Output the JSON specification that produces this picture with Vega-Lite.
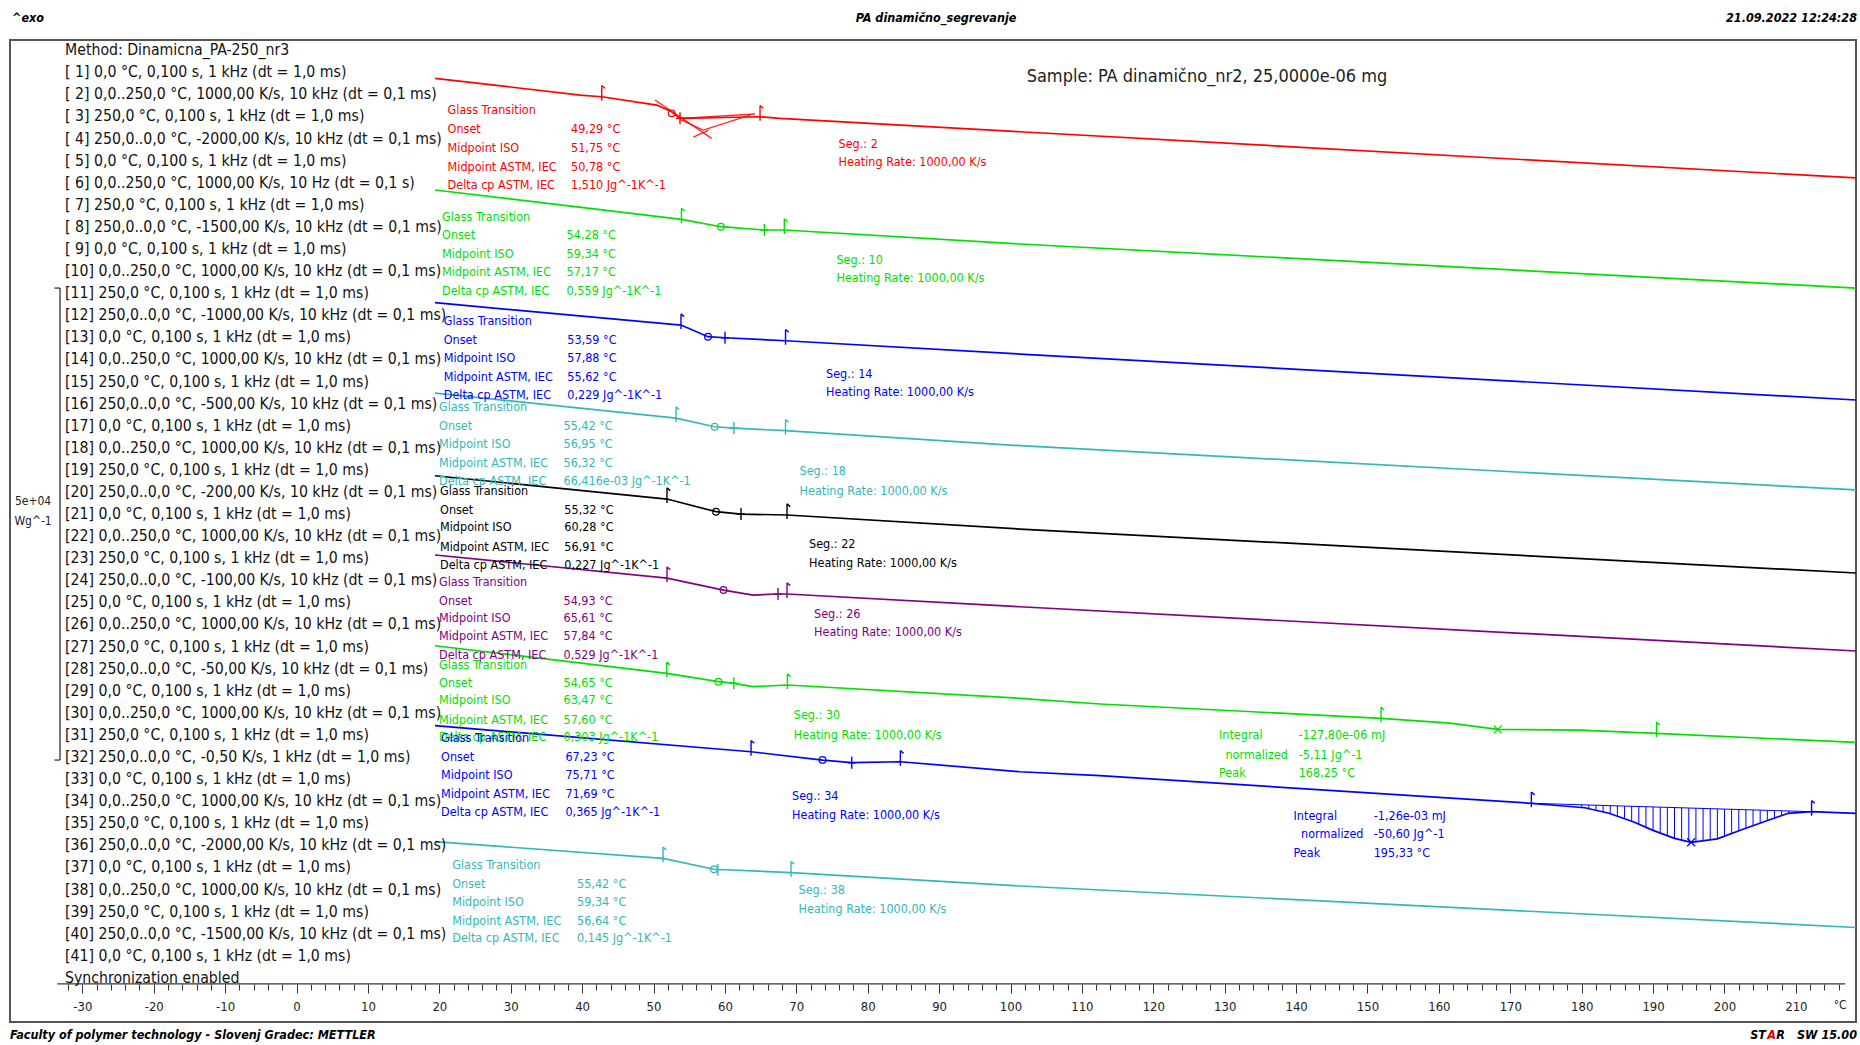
{
  "$schema": "https://vega.github.io/schema/vega-lite/v6.json",
  "width": 1846,
  "height": 982,
  "autosize": {"type": "none"},
  "padding": {"left": 10, "top": 40, "right": 4, "bottom": 23},
  "background": "white",
  "config": {
    "view": {"stroke": "#555555", "strokeWidth": 2},
    "font": "DejaVu Sans Condensed, Liberation Sans, sans-serif"
  },
  "datasets": {
    "curves": [
      {"s": "s2", "T": 19.4, "hf": 99.97}, {"s": "s2", "T": 39.71, "hf": 98.2}, {"s": "s2", "T": 42.75, "hf": 98.02}, {"s": "s2", "T": 50.45, "hf": 97.14}, {"s": "s2", "T": 52.55, "hf": 96.43}, {"s": "s2", "T": 53.71, "hf": 95.73}, {"s": "s2", "T": 64.92, "hf": 95.9}, {"s": "s2", "T": 67.72, "hf": 95.73}, {"s": "s2", "T": 101.33, "hf": 94.31}, {"s": "s2", "T": 218.5, "hf": 89.41},
      {"s": "s10", "T": 19.4, "hf": 88.14}, {"s": "s10", "T": 53.91, "hf": 85.03}, {"s": "s10", "T": 59.45, "hf": 84.25}, {"s": "s10", "T": 65.53, "hf": 83.9}, {"s": "s10", "T": 68.32, "hf": 83.9}, {"s": "s10", "T": 101.33, "hf": 82.42}, {"s": "s10", "T": 218.5, "hf": 77.75},
      {"s": "s14", "T": 19.4, "hf": 76.2}, {"s": "s14", "T": 53.85, "hf": 73.83}, {"s": "s14", "T": 57.63, "hf": 72.6}, {"s": "s14", "T": 60.01, "hf": 72.49}, {"s": "s14", "T": 68.49, "hf": 72.17}, {"s": "s14", "T": 101.33, "hf": 70.76}, {"s": "s14", "T": 218.5, "hf": 65.89},
      {"s": "s18", "T": 19.4, "hf": 66.63}, {"s": "s18", "T": 53.15, "hf": 63.98}, {"s": "s18", "T": 58.57, "hf": 63.06}, {"s": "s18", "T": 61.27, "hf": 62.92}, {"s": "s18", "T": 68.49, "hf": 62.64}, {"s": "s18", "T": 101.33, "hf": 61.05}, {"s": "s18", "T": 218.5, "hf": 56.36},
      {"s": "s22", "T": 19.4, "hf": 57.87}, {"s": "s22", "T": 51.89, "hf": 55.4}, {"s": "s22", "T": 58.75, "hf": 54.06}, {"s": "s22", "T": 62.25, "hf": 53.81}, {"s": "s22", "T": 68.7, "hf": 53.71}, {"s": "s22", "T": 101.33, "hf": 52.22}, {"s": "s22", "T": 218.5, "hf": 47.56},
      {"s": "s26", "T": 19.4, "hf": 49.47}, {"s": "s26", "T": 51.89, "hf": 47.03}, {"s": "s26", "T": 59.8, "hf": 45.76}, {"s": "s26", "T": 63.94, "hf": 45.23}, {"s": "s26", "T": 67.44, "hf": 45.34}, {"s": "s26", "T": 68.7, "hf": 45.34}, {"s": "s26", "T": 101.33, "hf": 43.99}, {"s": "s26", "T": 218.5, "hf": 39.3},
      {"s": "s30", "T": 19.4, "hf": 39.86}, {"s": "s30", "T": 51.86, "hf": 36.94}, {"s": "s30", "T": 59.1, "hf": 36.05}, {"s": "s30", "T": 61.25, "hf": 35.88}, {"s": "s30", "T": 63.94, "hf": 35.52}, {"s": "s30", "T": 68.75, "hf": 35.7}, {"s": "s30", "T": 101.33, "hf": 34.29}, {"s": "s30", "T": 112.54, "hf": 33.69}, {"s": "s30", "T": 151.89, "hf": 32.17}, {"s": "s30", "T": 161.55, "hf": 31.67}, {"s": "s30", "T": 168.25, "hf": 31.0}, {"s": "s30", "T": 179.76, "hf": 30.93}, {"s": "s30", "T": 190.48, "hf": 30.58}, {"s": "s30", "T": 218.5, "hf": 29.61},
      {"s": "s34", "T": 19.4, "hf": 31.39}, {"s": "s34", "T": 63.66, "hf": 28.63}, {"s": "s34", "T": 73.68, "hf": 27.75}, {"s": "s34", "T": 77.76, "hf": 27.47}, {"s": "s34", "T": 84.57, "hf": 27.57}, {"s": "s34", "T": 101.33, "hf": 26.51}, {"s": "s34", "T": 112.54, "hf": 26.09}, {"s": "s34", "T": 172.95, "hf": 23.17}, {"s": "s34", "T": 177.03, "hf": 22.91}, {"s": "s34", "T": 180.42, "hf": 22.7}, {"s": "s34", "T": 183.82, "hf": 22.11}, {"s": "s34", "T": 187.21, "hf": 21.22}, {"s": "s34", "T": 190.0, "hf": 20.3}, {"s": "s34", "T": 193.0, "hf": 19.45}, {"s": "s34", "T": 195.33, "hf": 19.04}, {"s": "s34", "T": 199.0, "hf": 19.4}, {"s": "s34", "T": 202.5, "hf": 20.4}, {"s": "s34", "T": 206.22, "hf": 21.4}, {"s": "s34", "T": 208.94, "hf": 22.11}, {"s": "s34", "T": 212.2, "hf": 22.28}, {"s": "s34", "T": 218.5, "hf": 22.09},
      {"s": "s38", "T": 19.4, "hf": 19.1}, {"s": "s38", "T": 51.33, "hf": 17.34}, {"s": "s38", "T": 58.47, "hf": 16.18}, {"s": "s38", "T": 69.26, "hf": 15.82}, {"s": "s38", "T": 101.33, "hf": 14.41}, {"s": "s38", "T": 218.5, "hf": 10.01}
    ],
    "guides": [
      {"s": "s2", "p": "c1", "T": 50.21, "hf": 97.67}, {"s": "s2", "p": "c1", "T": 58.15, "hf": 93.61},
      {"s": "s2", "p": "c2", "T": 53.71, "hf": 95.63}, {"s": "s2", "p": "c2", "T": 56.97, "hf": 94.49}, {"s": "s2", "p": "c2", "T": 63.52, "hf": 96.08},
      {"s": "s2", "p": "c3", "T": 53.71, "hf": 95.73}, {"s": "s2", "p": "c3", "T": 64.22, "hf": 96.19},
      {"s": "s2", "p": "c4", "T": 55.57, "hf": 93.75}, {"s": "s2", "p": "c4", "T": 57.68, "hf": 94.46}
    ],
    "hatch": [
      {"T": 180, "hf": 22.73, "hf2": 23.01}, {"T": 181, "hf": 22.6, "hf2": 22.99}, {"T": 182, "hf": 22.43, "hf2": 22.97}, {"T": 183, "hf": 22.25, "hf2": 22.94},
      {"T": 184, "hf": 22.06, "hf2": 22.92}, {"T": 185, "hf": 21.8, "hf2": 22.9}, {"T": 186, "hf": 21.54, "hf2": 22.87}, {"T": 187, "hf": 21.28, "hf2": 22.85},
      {"T": 188, "hf": 20.96, "hf2": 22.83}, {"T": 189, "hf": 20.63, "hf2": 22.81}, {"T": 190, "hf": 20.3, "hf2": 22.78}, {"T": 191, "hf": 20.02, "hf2": 22.76},
      {"T": 192, "hf": 19.73, "hf2": 22.74}, {"T": 193, "hf": 19.45, "hf2": 22.72}, {"T": 194, "hf": 19.27, "hf2": 22.69}, {"T": 195, "hf": 19.1, "hf2": 22.67},
      {"T": 196, "hf": 19.11, "hf2": 22.65}, {"T": 197, "hf": 19.2, "hf2": 22.63}, {"T": 198, "hf": 19.3, "hf2": 22.6}, {"T": 199, "hf": 19.4, "hf2": 22.58},
      {"T": 200, "hf": 19.69, "hf2": 22.56}, {"T": 201, "hf": 19.97, "hf2": 22.54}, {"T": 202, "hf": 20.26, "hf2": 22.51}, {"T": 203, "hf": 20.53, "hf2": 22.49},
      {"T": 204, "hf": 20.8, "hf2": 22.47}, {"T": 205, "hf": 21.07, "hf2": 22.45}, {"T": 206, "hf": 21.34, "hf2": 22.42}, {"T": 207, "hf": 21.6, "hf2": 22.4},
      {"T": 208, "hf": 21.86, "hf2": 22.38}, {"T": 209, "hf": 22.11, "hf2": 22.35}, {"T": 210, "hf": 22.16, "hf2": 22.33}, {"T": 211, "hf": 22.22, "hf2": 22.31}
    ],
    "baseline": [
      {"T": 172.95, "hf": 23.17}, {"T": 212.2, "hf": 22.28}
    ],
    "flags": [
      {"s": "s2", "T": 42.75, "hf": 98.02}, {"s": "s2", "T": 64.92, "hf": 95.9},
      {"s": "s10", "T": 53.91, "hf": 85.03}, {"s": "s10", "T": 68.32, "hf": 83.9},
      {"s": "s14", "T": 53.85, "hf": 73.83}, {"s": "s14", "T": 68.49, "hf": 72.17},
      {"s": "s18", "T": 53.15, "hf": 63.98}, {"s": "s18", "T": 68.49, "hf": 62.64},
      {"s": "s22", "T": 51.89, "hf": 55.4}, {"s": "s22", "T": 68.7, "hf": 53.71},
      {"s": "s26", "T": 51.89, "hf": 47.03}, {"s": "s26", "T": 68.7, "hf": 45.34},
      {"s": "s30", "T": 51.86, "hf": 36.94}, {"s": "s30", "T": 68.75, "hf": 35.7}, {"s": "s30", "T": 151.89, "hf": 32.17}, {"s": "s30", "T": 190.48, "hf": 30.58},
      {"s": "s34", "T": 63.66, "hf": 28.63}, {"s": "s34", "T": 84.57, "hf": 27.57}, {"s": "s34", "T": 172.95, "hf": 23.17}, {"s": "s34", "T": 212.2, "hf": 22.28},
      {"s": "s38", "T": 51.33, "hf": 17.34}, {"s": "s38", "T": 69.26, "hf": 15.82}
    ],
    "midpoints": [
      {"s": "s2", "T": 52.55, "hf": 96.26}, {"s": "s10", "T": 59.45, "hf": 84.25}, {"s": "s14", "T": 57.63, "hf": 72.6},
      {"s": "s18", "T": 58.57, "hf": 63.06}, {"s": "s22", "T": 58.75, "hf": 54.06}, {"s": "s26", "T": 59.8, "hf": 45.76},
      {"s": "s30", "T": 59.1, "hf": 36.05}, {"s": "s34", "T": 73.68, "hf": 27.75}, {"s": "s38", "T": 58.47, "hf": 16.18}
    ],
    "crosses": [
      {"s": "s2", "T": 53.71, "hf": 95.73}, {"s": "s10", "T": 65.53, "hf": 83.9}, {"s": "s14", "T": 60.01, "hf": 72.49},
      {"s": "s18", "T": 61.27, "hf": 62.92}, {"s": "s22", "T": 62.25, "hf": 53.81}, {"s": "s26", "T": 67.44, "hf": 45.34},
      {"s": "s30", "T": 61.25, "hf": 35.88}, {"s": "s34", "T": 77.76, "hf": 27.47}, {"s": "s38", "T": 59.0, "hf": 16.14}
    ],
    "peaks": [
      {"s": "s30", "T": 168.25, "hf": 31.0}, {"s": "s34", "T": 195.33, "hf": 19.04}
    ],
    "notes": [
      {"s": "s2", "T": 21.16, "hf": 96.61, "txt": "Glass Transition"},
      {"s": "s2", "T": 21.16, "hf": 94.55, "txt": "Onset"}, {"s": "s2", "T": 38.45, "hf": 94.55, "txt": "49,29 °C"},
      {"s": "s2", "T": 21.16, "hf": 92.64, "txt": "Midpoint ISO"}, {"s": "s2", "T": 38.45, "hf": 92.64, "txt": "51,75 °C"},
      {"s": "s2", "T": 21.16, "hf": 90.62, "txt": "Midpoint ASTM, IEC"}, {"s": "s2", "T": 38.45, "hf": 90.62, "txt": "50,78 °C"},
      {"s": "s2", "T": 21.16, "hf": 88.67, "txt": "Delta cp ASTM, IEC"}, {"s": "s2", "T": 38.45, "hf": 88.67, "txt": "1,510 Jg^-1K^-1"},
      {"s": "s2", "T": 75.91, "hf": 93.01, "txt": "Seg.: 2"}, {"s": "s2", "T": 75.91, "hf": 91.15, "txt": "Heating Rate: 1000,00 K/s"},

      {"s": "s10", "T": 20.38, "hf": 85.28, "txt": "Glass Transition"},
      {"s": "s10", "T": 20.38, "hf": 83.32, "txt": "Onset"}, {"s": "s10", "T": 37.83, "hf": 83.32, "txt": "54,28 °C"},
      {"s": "s10", "T": 20.38, "hf": 81.32, "txt": "Midpoint ISO"}, {"s": "s10", "T": 37.83, "hf": 81.32, "txt": "59,34 °C"},
      {"s": "s10", "T": 20.38, "hf": 79.48, "txt": "Midpoint ASTM, IEC"}, {"s": "s10", "T": 37.83, "hf": 79.48, "txt": "57,17 °C"},
      {"s": "s10", "T": 20.38, "hf": 77.46, "txt": "Delta cp ASTM, IEC"}, {"s": "s10", "T": 37.83, "hf": 77.46, "txt": "0,559 Jg^-1K^-1"},
      {"s": "s10", "T": 75.62, "hf": 80.72, "txt": "Seg.: 10"}, {"s": "s10", "T": 75.62, "hf": 78.81, "txt": "Heating Rate: 1000,00 K/s"},

      {"s": "s14", "T": 20.62, "hf": 74.31, "txt": "Glass Transition"},
      {"s": "s14", "T": 20.62, "hf": 72.3, "txt": "Onset"}, {"s": "s14", "T": 37.93, "hf": 72.3, "txt": "53,59 °C"},
      {"s": "s14", "T": 20.62, "hf": 70.34, "txt": "Midpoint ISO"}, {"s": "s14", "T": 37.93, "hf": 70.34, "txt": "57,88 °C"},
      {"s": "s14", "T": 20.62, "hf": 68.36, "txt": "Midpoint ASTM, IEC"}, {"s": "s14", "T": 37.93, "hf": 68.36, "txt": "55,62 °C"},
      {"s": "s14", "T": 20.62, "hf": 66.42, "txt": "Delta cp ASTM, IEC"}, {"s": "s14", "T": 37.93, "hf": 66.42, "txt": "0,229 Jg^-1K^-1"},
      {"s": "s14", "T": 74.16, "hf": 68.64, "txt": "Seg.: 14"}, {"s": "s14", "T": 74.16, "hf": 66.77, "txt": "Heating Rate: 1000,00 K/s"},

      {"s": "s18", "T": 19.96, "hf": 65.15, "txt": "Glass Transition"},
      {"s": "s18", "T": 19.96, "hf": 63.14, "txt": "Onset"}, {"s": "s18", "T": 37.39, "hf": 63.14, "txt": "55,42 °C"},
      {"s": "s18", "T": 19.96, "hf": 61.23, "txt": "Midpoint ISO"}, {"s": "s18", "T": 37.39, "hf": 61.23, "txt": "56,95 °C"},
      {"s": "s18", "T": 19.96, "hf": 59.22, "txt": "Midpoint ASTM, IEC"}, {"s": "s18", "T": 37.39, "hf": 59.22, "txt": "56,32 °C"},
      {"s": "s18", "T": 19.96, "hf": 57.31, "txt": "Delta cp ASTM, IEC"}, {"s": "s18", "T": 37.39, "hf": 57.31, "txt": "66,416e-03 Jg^-1K^-1"},
      {"s": "s18", "T": 70.45, "hf": 58.37, "txt": "Seg.: 18"}, {"s": "s18", "T": 70.45, "hf": 56.28, "txt": "Heating Rate: 1000,00 K/s"},

      {"s": "s22", "T": 20.1, "hf": 56.3, "txt": "Glass Transition"},
      {"s": "s22", "T": 20.1, "hf": 54.29, "txt": "Onset"}, {"s": "s22", "T": 37.51, "hf": 54.29, "txt": "55,32 °C"},
      {"s": "s22", "T": 20.1, "hf": 52.42, "txt": "Midpoint ISO"}, {"s": "s22", "T": 37.51, "hf": 52.42, "txt": "60,28 °C"},
      {"s": "s22", "T": 20.1, "hf": 50.37, "txt": "Midpoint ASTM, IEC"}, {"s": "s22", "T": 37.51, "hf": 50.37, "txt": "56,91 °C"},
      {"s": "s22", "T": 20.1, "hf": 48.41, "txt": "Delta cp ASTM, IEC"}, {"s": "s22", "T": 37.51, "hf": 48.41, "txt": "0,227 Jg^-1K^-1"},
      {"s": "s22", "T": 71.78, "hf": 50.66, "txt": "Seg.: 22"}, {"s": "s22", "T": 71.78, "hf": 48.59, "txt": "Heating Rate: 1000,00 K/s"},

      {"s": "s26", "T": 19.96, "hf": 46.66, "txt": "Glass Transition"},
      {"s": "s26", "T": 19.96, "hf": 44.65, "txt": "Onset"}, {"s": "s26", "T": 37.39, "hf": 44.65, "txt": "54,93 °C"},
      {"s": "s26", "T": 19.96, "hf": 42.8, "txt": "Midpoint ISO"}, {"s": "s26", "T": 37.39, "hf": 42.8, "txt": "65,61 °C"},
      {"s": "s26", "T": 19.96, "hf": 40.86, "txt": "Midpoint ASTM, IEC"}, {"s": "s26", "T": 37.39, "hf": 40.86, "txt": "57,84 °C"},
      {"s": "s26", "T": 19.96, "hf": 38.85, "txt": "Delta cp ASTM, IEC"}, {"s": "s26", "T": 37.39, "hf": 38.85, "txt": "0,529 Jg^-1K^-1"},
      {"s": "s26", "T": 72.48, "hf": 43.19, "txt": "Seg.: 26"}, {"s": "s26", "T": 72.48, "hf": 41.28, "txt": "Heating Rate: 1000,00 K/s"},

      {"s": "s30", "T": 19.96, "hf": 37.82, "txt": "Glass Transition"},
      {"s": "s30", "T": 19.96, "hf": 35.96, "txt": "Onset"}, {"s": "s30", "T": 37.39, "hf": 35.96, "txt": "54,65 °C"},
      {"s": "s30", "T": 19.96, "hf": 34.06, "txt": "Midpoint ISO"}, {"s": "s30", "T": 37.39, "hf": 34.06, "txt": "63,47 °C"},
      {"s": "s30", "T": 19.96, "hf": 32.04, "txt": "Midpoint ASTM, IEC"}, {"s": "s30", "T": 37.39, "hf": 32.04, "txt": "57,60 °C"},
      {"s": "s30", "T": 19.96, "hf": 30.14, "txt": "Delta cp ASTM, IEC"}, {"s": "s30", "T": 37.39, "hf": 30.14, "txt": "0,303 Jg^-1K^-1"},
      {"s": "s30", "T": 69.65, "hf": 32.49, "txt": "Seg.: 30"}, {"s": "s30", "T": 69.65, "hf": 30.4, "txt": "Heating Rate: 1000,00 K/s"},
      {"s": "s30", "T": 129.2, "hf": 30.4, "txt": "Integral"}, {"s": "s30", "T": 140.36, "hf": 30.4, "txt": "-127,80e-06 mJ"},
      {"s": "s30", "T": 130.11, "hf": 28.28, "txt": "normalized"}, {"s": "s30", "T": 140.36, "hf": 28.28, "txt": "-5,11 Jg^-1"},
      {"s": "s30", "T": 129.2, "hf": 26.43, "txt": "Peak"}, {"s": "s30", "T": 140.36, "hf": 26.43, "txt": "168,25 °C"},

      {"s": "s34", "T": 20.24, "hf": 30.12, "txt": "Glass Transition"},
      {"s": "s34", "T": 20.24, "hf": 28.07, "txt": "Onset"}, {"s": "s34", "T": 37.66, "hf": 28.07, "txt": "67,23 °C"},
      {"s": "s34", "T": 20.24, "hf": 26.2, "txt": "Midpoint ISO"}, {"s": "s34", "T": 37.66, "hf": 26.2, "txt": "75,71 °C"},
      {"s": "s34", "T": 20.24, "hf": 24.15, "txt": "Midpoint ASTM, IEC"}, {"s": "s34", "T": 37.66, "hf": 24.15, "txt": "71,69 °C"},
      {"s": "s34", "T": 20.24, "hf": 22.21, "txt": "Delta cp ASTM, IEC"}, {"s": "s34", "T": 37.66, "hf": 22.21, "txt": "0,365 Jg^-1K^-1"},
      {"s": "s34", "T": 69.4, "hf": 23.94, "txt": "Seg.: 34"}, {"s": "s34", "T": 69.4, "hf": 21.88, "txt": "Heating Rate: 1000,00 K/s"},
      {"s": "s34", "T": 139.64, "hf": 21.82, "txt": "Integral"}, {"s": "s34", "T": 150.87, "hf": 21.82, "txt": "-1,26e-03 mJ"},
      {"s": "s34", "T": 140.69, "hf": 19.88, "txt": "normalized"}, {"s": "s34", "T": 150.87, "hf": 19.88, "txt": "-50,60 Jg^-1"},
      {"s": "s34", "T": 139.64, "hf": 17.87, "txt": "Peak"}, {"s": "s34", "T": 150.87, "hf": 17.87, "txt": "195,33 °C"},

      {"s": "s38", "T": 21.81, "hf": 16.63, "txt": "Glass Transition"},
      {"s": "s38", "T": 21.81, "hf": 14.62, "txt": "Onset"}, {"s": "s38", "T": 39.29, "hf": 14.62, "txt": "55,42 °C"},
      {"s": "s38", "T": 21.81, "hf": 12.76, "txt": "Midpoint ISO"}, {"s": "s38", "T": 39.29, "hf": 12.76, "txt": "59,34 °C"},
      {"s": "s38", "T": 21.81, "hf": 10.75, "txt": "Midpoint ASTM, IEC"}, {"s": "s38", "T": 39.29, "hf": 10.75, "txt": "56,64 °C"},
      {"s": "s38", "T": 21.81, "hf": 8.85, "txt": "Delta cp ASTM, IEC"}, {"s": "s38", "T": 39.29, "hf": 8.85, "txt": "0,145 Jg^-1K^-1"},
      {"s": "s38", "T": 70.31, "hf": 14.01, "txt": "Seg.: 38"}, {"s": "s38", "T": 70.31, "hf": 12.02, "txt": "Heating Rate: 1000,00 K/s"}
    ],
    "method": [
      {"T": -32.42, "hf": 102.95, "txt": "Method: Dinamicna_PA-250_nr3"},
      {"T": -32.42, "hf": 100.61, "txt": "[ 1] 0,0 °C, 0,100 s, 1 kHz (dt = 1,0 ms)"},
      {"T": -32.42, "hf": 98.27, "txt": "[ 2] 0,0..250,0 °C, 1000,00 K/s, 10 kHz (dt = 0,1 ms)"},
      {"T": -32.42, "hf": 95.93, "txt": "[ 3] 250,0 °C, 0,100 s, 1 kHz (dt = 1,0 ms)"},
      {"T": -32.42, "hf": 93.59, "txt": "[ 4] 250,0..0,0 °C, -2000,00 K/s, 10 kHz (dt = 0,1 ms)"},
      {"T": -32.42, "hf": 91.25, "txt": "[ 5] 0,0 °C, 0,100 s, 1 kHz (dt = 1,0 ms)"},
      {"T": -32.42, "hf": 88.91, "txt": "[ 6] 0,0..250,0 °C, 1000,00 K/s, 10 Hz (dt = 0,1 s)"},
      {"T": -32.42, "hf": 86.57, "txt": "[ 7] 250,0 °C, 0,100 s, 1 kHz (dt = 1,0 ms)"},
      {"T": -32.42, "hf": 84.23, "txt": "[ 8] 250,0..0,0 °C, -1500,00 K/s, 10 kHz (dt = 0,1 ms)"},
      {"T": -32.42, "hf": 81.89, "txt": "[ 9] 0,0 °C, 0,100 s, 1 kHz (dt = 1,0 ms)"},
      {"T": -32.42, "hf": 79.55, "txt": "[10] 0,0..250,0 °C, 1000,00 K/s, 10 kHz (dt = 0,1 ms)"},
      {"T": -32.42, "hf": 77.21, "txt": "[11] 250,0 °C, 0,100 s, 1 kHz (dt = 1,0 ms)"},
      {"T": -32.42, "hf": 74.87, "txt": "[12] 250,0..0,0 °C, -1000,00 K/s, 10 kHz (dt = 0,1 ms)"},
      {"T": -32.42, "hf": 72.53, "txt": "[13] 0,0 °C, 0,100 s, 1 kHz (dt = 1,0 ms)"},
      {"T": -32.42, "hf": 70.19, "txt": "[14] 0,0..250,0 °C, 1000,00 K/s, 10 kHz (dt = 0,1 ms)"},
      {"T": -32.42, "hf": 67.85, "txt": "[15] 250,0 °C, 0,100 s, 1 kHz (dt = 1,0 ms)"},
      {"T": -32.42, "hf": 65.51, "txt": "[16] 250,0..0,0 °C, -500,00 K/s, 10 kHz (dt = 0,1 ms)"},
      {"T": -32.42, "hf": 63.17, "txt": "[17] 0,0 °C, 0,100 s, 1 kHz (dt = 1,0 ms)"},
      {"T": -32.42, "hf": 60.83, "txt": "[18] 0,0..250,0 °C, 1000,00 K/s, 10 kHz (dt = 0,1 ms)"},
      {"T": -32.42, "hf": 58.49, "txt": "[19] 250,0 °C, 0,100 s, 1 kHz (dt = 1,0 ms)"},
      {"T": -32.42, "hf": 56.15, "txt": "[20] 250,0..0,0 °C, -200,00 K/s, 10 kHz (dt = 0,1 ms)"},
      {"T": -32.42, "hf": 53.81, "txt": "[21] 0,0 °C, 0,100 s, 1 kHz (dt = 1,0 ms)"},
      {"T": -32.42, "hf": 51.47, "txt": "[22] 0,0..250,0 °C, 1000,00 K/s, 10 kHz (dt = 0,1 ms)"},
      {"T": -32.42, "hf": 49.13, "txt": "[23] 250,0 °C, 0,100 s, 1 kHz (dt = 1,0 ms)"},
      {"T": -32.42, "hf": 46.79, "txt": "[24] 250,0..0,0 °C, -100,00 K/s, 10 kHz (dt = 0,1 ms)"},
      {"T": -32.42, "hf": 44.45, "txt": "[25] 0,0 °C, 0,100 s, 1 kHz (dt = 1,0 ms)"},
      {"T": -32.42, "hf": 42.11, "txt": "[26] 0,0..250,0 °C, 1000,00 K/s, 10 kHz (dt = 0,1 ms)"},
      {"T": -32.42, "hf": 39.77, "txt": "[27] 250,0 °C, 0,100 s, 1 kHz (dt = 1,0 ms)"},
      {"T": -32.42, "hf": 37.43, "txt": "[28] 250,0..0,0 °C, -50,00 K/s, 10 kHz (dt = 0,1 ms)"},
      {"T": -32.42, "hf": 35.09, "txt": "[29] 0,0 °C, 0,100 s, 1 kHz (dt = 1,0 ms)"},
      {"T": -32.42, "hf": 32.75, "txt": "[30] 0,0..250,0 °C, 1000,00 K/s, 10 kHz (dt = 0,1 ms)"},
      {"T": -32.42, "hf": 30.41, "txt": "[31] 250,0 °C, 0,100 s, 1 kHz (dt = 1,0 ms)"},
      {"T": -32.42, "hf": 28.07, "txt": "[32] 250,0..0,0 °C, -0,50 K/s, 1 kHz (dt = 1,0 ms)"},
      {"T": -32.42, "hf": 25.73, "txt": "[33] 0,0 °C, 0,100 s, 1 kHz (dt = 1,0 ms)"},
      {"T": -32.42, "hf": 23.39, "txt": "[34] 0,0..250,0 °C, 1000,00 K/s, 10 kHz (dt = 0,1 ms)"},
      {"T": -32.42, "hf": 21.05, "txt": "[35] 250,0 °C, 0,100 s, 1 kHz (dt = 1,0 ms)"},
      {"T": -32.42, "hf": 18.71, "txt": "[36] 250,0..0,0 °C, -2000,00 K/s, 10 kHz (dt = 0,1 ms)"},
      {"T": -32.42, "hf": 16.37, "txt": "[37] 0,0 °C, 0,100 s, 1 kHz (dt = 1,0 ms)"},
      {"T": -32.42, "hf": 14.03, "txt": "[38] 0,0..250,0 °C, 1000,00 K/s, 10 kHz (dt = 0,1 ms)"},
      {"T": -32.42, "hf": 11.69, "txt": "[39] 250,0 °C, 0,100 s, 1 kHz (dt = 1,0 ms)"},
      {"T": -32.42, "hf": 9.35, "txt": "[40] 250,0..0,0 °C, -1500,00 K/s, 10 kHz (dt = 0,1 ms)"},
      {"T": -32.42, "hf": 7.01, "txt": "[41] 0,0 °C, 0,100 s, 1 kHz (dt = 1,0 ms)"},
      {"T": -32.42, "hf": 4.67, "txt": "Synchronization enabled"}
    ],
    "rules": [
      {"T": -33.5, "T2": 216.9, "hf": 4.03, "hf2": 4.03},
      {"T": -33.12, "T2": -33.12, "hf": 77.75, "hf2": 27.75},
      {"T": -33.89, "T2": -33.12, "hf": 77.75, "hf2": 77.75},
      {"T": -33.89, "T2": -33.12, "hf": 27.75, "hf2": 27.75}
    ],
    "scalebar": [
      {"T": -36.9, "hf": 55.19, "txt": "5e+04"},
      {"T": -36.9, "hf": 53.07, "txt": "Wg^-1"},
      {"T": 216.2, "hf": 1.85, "txt": "°C"}
    ],
    "sample": [
      {"T": 127.52, "hf": 100.16, "txt": "Sample: PA dinamično_nr2, 25,0000e-06 mg"}
    ],
    "pageLeft": [
      {"T": -39.85, "hf": 106.36, "txt": "^exo"},
      {"T": -40.13, "hf": -1.38, "txt": "Faculty of polymer technology - Slovenj Gradec: METTLER"}
    ],
    "pageCenter": [
      {"T": 89.57, "hf": 106.36, "txt": "PA dinamično_segrevanje"}
    ],
    "pageRight": [
      {"T": 218.56, "hf": 106.36, "txt": "21.09.2022 12:24:28"},
      {"T": 218.56, "hf": -1.38, "txt": "SW 15.00"},
      {"T": 208.47, "hf": -1.38, "txt": "R"},
      {"T": 205.81, "hf": -1.38, "txt": "ST"}
    ],
    "pageRed": [
      {"T": 207.21, "hf": -1.38, "txt": "A"}
    ]
  },
  "encoding": {
    "x": {
      "field": "T",
      "type": "quantitative",
      "scale": {"domain": [-40.13, 218.42], "nice": false, "zero": false},
      "axis": {
        "title": null,
        "domain": false,
        "grid": false,
        "offset": -38,
        "values": [-32, -30, -28, -26, -24, -22, -20, -18, -16, -14, -12, -10, -8, -6, -4, -2, 0, 2, 4, 6, 8, 10, 12, 14, 16, 18, 20, 22, 24, 26, 28, 30, 32, 34, 36, 38, 40, 42, 44, 46, 48, 50, 52, 54, 56, 58, 60, 62, 64, 66, 68, 70, 72, 74, 76, 78, 80, 82, 84, 86, 88, 90, 92, 94, 96, 98, 100, 102, 104, 106, 108, 110, 112, 114, 116, 118, 120, 122, 124, 126, 128, 130, 132, 134, 136, 138, 140, 142, 144, 146, 148, 150, 152, 154, 156, 158, 160, 162, 164, 166, 168, 170, 172, 174, 176, 178, 180, 182, 184, 186, 188, 190, 192, 194, 196, 198, 200, 202, 204, 206, 208, 210, 212, 214, 216],
        "tickColor": "#333333",
        "tickWidth": 1,
        "tickSize": {"condition": {"test": "datum.value % 10 === 0", "value": 9}, "value": 6},
        "labelExpr": "datum.value % 10 === 0 ? replace(datum.label, '\u2212', '-') : ''",
        "labelOverlap": false,
        "labelFlush": false,
        "labelBound": false,
        "labelFont": "DejaVu Sans Condensed, Liberation Sans, sans-serif",
        "labelFontSize": 13,
        "labelColor": "#222222",
        "labelPadding": 7
      }
    },
    "y": {
      "field": "hf",
      "type": "quantitative",
      "title": "Wg^-1",
      "scale": {"domain": [0, 104.03], "nice": false, "zero": false},
      "axis": null
    }
  },
  "layer": [
    {
      "data": {"name": "hatch"},
      "mark": {"type": "rule", "color": "#0000ff", "strokeWidth": 1},
      "encoding": {"y2": {"field": "hf2"}}
    },
    {
      "data": {"name": "baseline"},
      "mark": {"type": "line", "color": "#0000ff", "strokeWidth": 1},
      "encoding": {}
    },
    {
      "data": {"name": "guides"},
      "mark": {"type": "line", "strokeWidth": 1.3, "opacity": 0.85},
      "encoding": {
        "detail": {"field": "p"},
        "color": {"field": "s", "type": "nominal", "legend": null,
          "scale": {"domain": ["s2", "s10", "s14", "s18", "s22", "s26", "s30", "s34", "s38"],
                    "range": ["#ff0000", "#00e000", "#0000ff", "#33b8b8", "#000000", "#800080", "#00e000", "#0000ff", "#33b8b8"]}}
      }
    },
    {
      "data": {"name": "curves"},
      "mark": {"type": "line", "strokeWidth": 1.7, "clip": true},
      "encoding": {
        "color": {"field": "s", "type": "nominal", "legend": null}
      }
    },
    {
      "data": {"name": "flags"},
      "mark": {"type": "point", "shape": "M0,-1.4L0,0.5M0,-1.4L0.4,-1.05", "size": 256, "filled": false, "strokeWidth": 1.4, "opacity": 1},
      "encoding": {"color": {"field": "s", "type": "nominal", "legend": null}}
    },
    {
      "data": {"name": "midpoints"},
      "mark": {"type": "point", "shape": "circle", "size": 45, "filled": false, "strokeWidth": 1.2, "opacity": 1},
      "encoding": {"color": {"field": "s", "type": "nominal", "legend": null}}
    },
    {
      "data": {"name": "crosses"},
      "mark": {"type": "point", "shape": "M-0.8,0L0.8,0M0,-1.2L0,1.2", "size": 100, "filled": false, "strokeWidth": 1.4, "opacity": 1},
      "encoding": {"color": {"field": "s", "type": "nominal", "legend": null}}
    },
    {
      "data": {"name": "peaks"},
      "mark": {"type": "point", "shape": "M-1,-1L1,1M-1,1L1,-1", "size": 64, "filled": false, "strokeWidth": 1.2, "opacity": 1},
      "encoding": {"color": {"field": "s", "type": "nominal", "legend": null}}
    },
    {
      "data": {"name": "rules"},
      "mark": {"type": "rule", "color": "#333333", "strokeWidth": 1.3},
      "encoding": {"x2": {"field": "T2"}, "y2": {"field": "hf2"}}
    },
    {
      "data": {"name": "notes"},
      "mark": {"type": "text", "align": "left", "baseline": "middle", "font": "DejaVu Sans Condensed, Liberation Sans, sans-serif", "fontSize": 12.5},
      "encoding": {
        "text": {"field": "txt"},
        "color": {"field": "s", "type": "nominal", "legend": null}
      }
    },
    {
      "data": {"name": "method"},
      "mark": {"type": "text", "align": "left", "baseline": "middle", "font": "DejaVu Sans Condensed, Liberation Sans, sans-serif", "fontSize": 15.7, "color": "#111111"},
      "encoding": {"text": {"field": "txt"}}
    },
    {
      "data": {"name": "scalebar"},
      "mark": {"type": "text", "align": "center", "baseline": "middle", "font": "DejaVu Sans Condensed, Liberation Sans, sans-serif", "fontSize": 12, "color": "#222222"},
      "encoding": {"text": {"field": "txt"}}
    },
    {
      "data": {"name": "sample"},
      "mark": {"type": "text", "align": "center", "baseline": "middle", "font": "DejaVu Sans Condensed, Liberation Sans, sans-serif", "fontSize": 18, "color": "#222222"},
      "encoding": {"text": {"field": "txt"}}
    },
    {
      "data": {"name": "pageLeft"},
      "mark": {"type": "text", "align": "left", "baseline": "middle", "font": "DejaVu Sans Condensed, Liberation Sans, sans-serif", "fontSize": 12.5, "fontWeight": "bold", "fontStyle": "italic", "color": "#000000"},
      "encoding": {"text": {"field": "txt"}}
    },
    {
      "data": {"name": "pageCenter"},
      "mark": {"type": "text", "align": "center", "baseline": "middle", "font": "DejaVu Sans Condensed, Liberation Sans, sans-serif", "fontSize": 12.5, "fontWeight": "bold", "fontStyle": "italic", "color": "#000000"},
      "encoding": {"text": {"field": "txt"}}
    },
    {
      "data": {"name": "pageRight"},
      "mark": {"type": "text", "align": "right", "baseline": "middle", "font": "DejaVu Sans Condensed, Liberation Sans, sans-serif", "fontSize": 12.5, "fontWeight": "bold", "fontStyle": "italic", "color": "#000000"},
      "encoding": {"text": {"field": "txt"}}
    },
    {
      "data": {"name": "pageRed"},
      "mark": {"type": "text", "align": "right", "baseline": "middle", "font": "DejaVu Sans Condensed, Liberation Sans, sans-serif", "fontSize": 12.5, "fontWeight": "bold", "fontStyle": "italic", "color": "#e00000"},
      "encoding": {"text": {"field": "txt"}}
    }
  ]
}
